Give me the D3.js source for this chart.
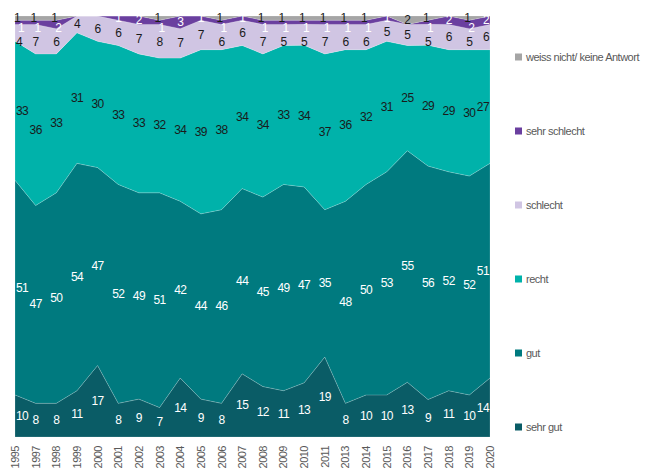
<!DOCTYPE html>
<html lang="de">
<head>
    <title>Stacked Area Chart</title>
    <script src="https://d3js.org/d3.v7.min.js"></script>
    <style>
        body {
            margin: 0;
            background: #ffffff;
        }
        svg text {
            font-family: "Liberation Sans", Arial, sans-serif;
        }
        .legend text, .xlabel {
            fill: #595959;
            font-size: 11px;
            letter-spacing: -0.5px;
        }
        .val {
            font-size: 12px;
            letter-spacing: -0.6px;
        }
    </style>
</head>
<body>
    <div id="chart"></div>

    <script>
        var years = ["1995", "1997", "1998", "1999", "2000", "2001", "2002", "2003", "2004", "2005",
            "2006", "2007", "2008", "2009", "2010", "2011", "2013", "2014", "2015", "2016",
            "2017", "2018", "2019", "2020"];

        var sehrGut      = [10, 8, 8, 11, 17, 8, 9, 7, 14, 9, 8, 15, 12, 11, 13, 19, 8, 10, 10, 13, 9, 11, 10, 14];
        var gut          = [51, 47, 50, 54, 47, 52, 49, 51, 42, 44, 46, 44, 45, 49, 47, 35, 48, 50, 53, 55, 56, 52, 52, 51];
        var recht        = [33, 36, 33, 31, 30, 33, 33, 32, 34, 39, 38, 34, 34, 33, 34, 37, 36, 32, 31, 25, 29, 29, 30, 27];
        var schlecht     = [4, 7, 6, 4, 6, 6, 7, 8, 7, 7, 6, 6, 7, 5, 5, 7, 6, 6, 5, 5, 5, 6, 5, 6];
        var sehrSchlecht = [1, 1, 2, 0, 0, 1, 2, 1, 3, 1, 1, 1, 1, 1, 1, 1, 1, 1, 1, 0, 1, 2, 2, 2];
        var weissNicht   = [1, 1, 1, 0, 0, 0, 0, 1, 0, 0, 1, 0, 1, 1, 1, 1, 1, 1, 0, 2, 1, 0, 1, 0];

        var seriesNames = ["sehr gut", "gut", "recht", "schlecht", "sehr schlecht", "weiss nicht/ keine Antwort"];
        var seriesValues = [sehrGut, gut, recht, schlecht, sehrSchlecht, weissNicht];
        var colors = ["#0a5c66", "#007a7f", "#00b2aa", "#d0c5e3", "#6a3f9f", "#a5a5a5"];
        var labelColors = ["#ffffff", "#ffffff", "#1a1a1a", "#1a1a1a", "#ffffff", "#1a1a1a"];

        var width = 670;
        var height = 470;
        var plot = { left: 15, right: 490, top: 16, bottom: 437 };

        // one row per year, keys = series names
        var rows = years.map(function (y, i) {
            var r = { year: y };
            seriesNames.forEach(function (s, j) { r[s] = seriesValues[j][i]; });
            return r;
        });

        var stack = d3.stack()
            .keys(seriesNames)
            .offset(d3.stackOffsetExpand);
        var layers = stack(rows);

        var xscale = d3.scalePoint()
            .domain(years)
            .range([plot.left, plot.right]);
        var yscale = d3.scaleLinear()
            .domain([0, 1])
            .range([plot.bottom, plot.top]);

        var svg = d3.select("#chart").append("svg")
            .attr("width", width)
            .attr("height", height);

        var area = d3.area()
            .x(function (d) { return xscale(d.data.year); })
            .y0(function (d) { return yscale(d[0]); })
            .y1(function (d) { return yscale(d[1]); });

        svg.append("g")
            .selectAll("path")
            .data(layers)
            .enter()
            .append("path")
            .attr("d", area)
            .attr("fill", function (d, i) { return colors[i]; })
            .attr("stroke", "rgba(255,255,255,0.35)")
            .attr("stroke-width", 0.5);

        // label y: middle of band, thin bands at the top pushed apart
        var labelY = layers.map(function (layer) {
            return layer.map(function (d) { return yscale((d[0] + d[1]) / 2); });
        });
        var labelDx = layers.map(function (layer) {
            return layer.map(function () { return 0; });
        });
        years.forEach(function (y, i) {
            var prev = null;
            for (var li = layers.length - 1; li >= 3; li--) {
                if (seriesValues[li][i] <= 0) continue;
                var yy = labelY[li][i];
                if (prev === null) {
                    yy = Math.max(yy, plot.top + 1);
                } else {
                    var gap = (li === 4) ? 10 : 14;
                    yy = Math.max(yy, prev + gap);
                }
                labelY[li][i] = yy;
                prev = yy;
            }
            // both tiny top labels present: nudge them sideways
            if (weissNicht[i] > 0 && sehrSchlecht[i] > 0) {
                labelDx[5][i] = -2;
                labelDx[4][i] = 2;
            }
        });

        // data labels
        layers.forEach(function (layer, li) {
            svg.append("g")
                .selectAll("text")
                .data(layer.map(function (d, i) { return { d: d, i: i }; })
                    .filter(function (o) { return o.d.data[layer.key] > 0; }))
                .enter()
                .append("text")
                .attr("class", "val")
                .attr("x", function (o) {
                    var x = xscale(o.d.data.year) + labelDx[li][o.i];
                    if (o.i === 0) return x + 1;
                    if (o.i === years.length - 1) return x - 1;
                    return x;
                })
                .attr("y", function (o) { return labelY[li][o.i]; })
                .attr("text-anchor", function (o) {
                    if (o.i === 0) return "start";
                    if (o.i === years.length - 1) return "end";
                    return "middle";
                })
                .attr("dominant-baseline", "central")
                .attr("fill", labelColors[li])
                .text(function (o) { return o.d.data[layer.key]; });
        });

        // x axis labels, rotated
        svg.append("g")
            .selectAll("text")
            .data(years)
            .enter()
            .append("text")
            .attr("class", "xlabel")
            .attr("transform", function (d) {
                return "translate(" + (xscale(d) + 4) + "," + (plot.bottom + 9) + ") rotate(-90)";
            })
            .attr("text-anchor", "end")
            .text(function (d) { return d; });

        // legend, top entry = top series
        var legendY = d3.scalePoint()
            .domain(seriesNames.slice().reverse())
            .range([57, 427]);

        var legend = svg.append("g").attr("class", "legend")
            .selectAll("g")
            .data(seriesNames)
            .enter()
            .append("g")
            .attr("transform", function (d) { return "translate(515," + legendY(d) + ")"; });
        legend.append("rect")
            .attr("x", 0)
            .attr("y", -3.5)
            .attr("width", 7)
            .attr("height", 7)
            .attr("fill", function (d, i) { return colors[i]; });
        legend.append("text")
            .attr("x", 11)
            .attr("y", 0)
            .attr("dominant-baseline", "central")
            .text(function (d) { return d; });
    </script>
</body>
</html>
